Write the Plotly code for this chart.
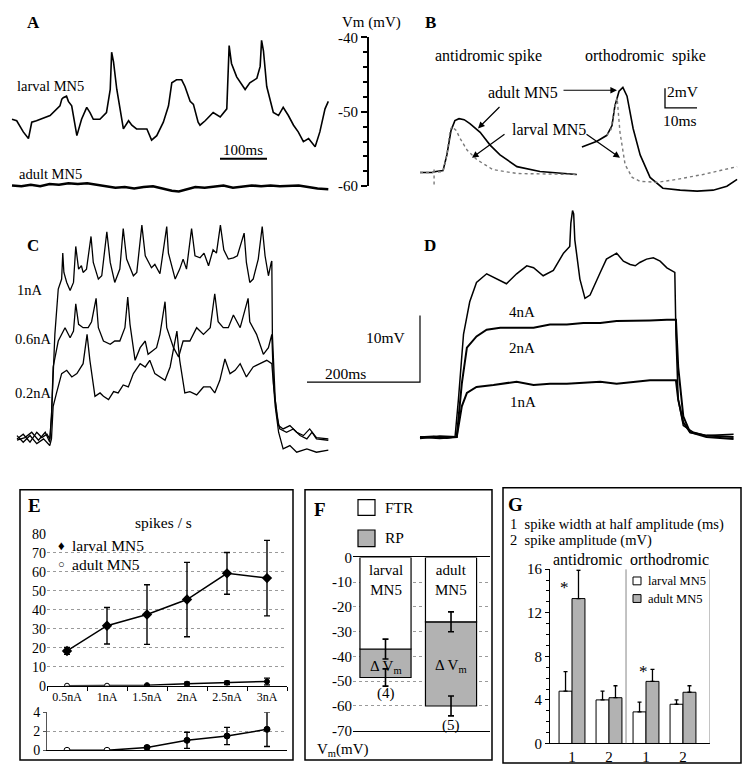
import plotly.graph_objects as go

W, H = 744, 774
FONT = "Liberation Serif"

# ---------------- Panel A : spontaneous membrane potential (time ms, Vm mV)
A_larval_t = [0, 10, 24, 35, 42, 52, 81, 102, 106, 109, 116, 120, 127, 138, 148, 159, 166, 173, 187, 201,
              209, 212, 216, 223, 237, 248, 255, 265, 287, 297, 308, 322, 333, 340, 350, 361, 368, 379, 386,
              396, 400, 411, 428, 443, 457, 462, 467, 478, 496, 506, 521, 528, 531, 535, 542, 556, 567, 577,
              588, 599, 609, 620, 631, 645, 655, 666, 673]
A_larval_v = [-51.0, -51.2, -52.7, -53.6, -51.4, -51.2, -50.5, -49.2, -48.3, -48.1, -47.9, -48.6, -49.2,
              -53.2, -51.0, -49.4, -50.1, -51.0, -51.0, -50.1, -47.0, -42.0, -43.3, -47.0, -52.3, -51.2,
              -51.8, -52.3, -52.3, -53.8, -53.2, -51.4, -49.2, -46.1, -45.7, -45.7, -46.6, -48.6, -49.0,
              -51.4, -51.8, -51.2, -50.1, -50.7, -49.6, -41.1, -43.5, -45.3, -47.0, -46.1, -45.5, -43.9,
              -40.4, -41.8, -46.6, -50.1, -50.5, -49.4, -50.5, -51.8, -52.7, -54.0, -53.6, -54.7, -52.7,
              -49.6, -48.6]
A_adult_t = [0, 20, 40, 60, 80, 100, 120, 140, 160, 180, 200, 220, 240, 260, 280, 300, 320, 340, 355, 370,
             390, 410, 430, 450, 470, 490, 510, 530, 550, 570, 590, 610, 630, 650, 673]
A_adult_v = [-59.9, -60.0, -59.8, -60.0, -59.7, -59.8, -59.6, -59.7, -59.6, -59.8, -60.0, -60.2, -60.1,
             -60.3, -60.1, -60.0, -60.3, -60.6, -60.7, -60.4, -60.1, -60.2, -60.1, -59.9, -60.2, -60.1,
             -59.9, -60.0, -59.9, -60.0, -59.9, -59.9, -60.1, -60.3, -60.4]
A_vm_ticks = [-40, -50, -60]
A_scale_ms = 100

# ---------------- Panel B : spikes (time ms, mV relative to baseline)
B_anti_adult_t = [0, 3.8, 5.0, 7.2, 8.4, 9.7, 10.9, 12.2, 13.8, 15.6, 18.8, 21.9, 25.0, 30.3, 37.5, 49.0]
B_anti_adult_v = [0, 0, 0.1, 0.2, 1.8, 4.3, 5.3, 5.5, 5.4, 5.0, 4.1, 2.8, 1.8, 0.6, 0.1, -0.2]
B_anti_larval_t = [0, 3.8, 7.2, 8.4, 9.4, 10.0, 11.3, 12.5, 14.7, 17.8, 22.8, 30.3, 49.0]
B_anti_larval_v = [0, 0, 0.1, 1.8, 4.3, 4.7, 4.3, 3.5, 2.3, 1.3, 0.3, -0.1, -0.2]
B_artifact_t = [4.4, 4.4]
B_artifact_v = [0.3, -1.4]
B_ortho_adult_t = [50.6, 55.3, 58.4, 60.0, 60.9, 62.2, 63.4, 64.7, 66.6, 68.8, 71.9, 75.9, 81.3, 86.6,
                   91.6, 95.9, 99.1]
B_ortho_adult_v = [2.6, 3.2, 3.8, 4.8, 6.8, 8.3, 8.7, 7.8, 4.5, 1.8, -0.5, -1.6, -1.8, -1.9, -1.8, -1.4, -0.7]
B_ortho_larval_t = [58.4, 59.7, 60.6, 61.6, 62.5, 64.1, 66.3, 68.8, 74.1, 80.3, 88.4, 99.1]
B_ortho_larval_v = [3.8, 4.4, 6.3, 7.6, 4.1, 0.8, -0.5, -0.9, -1.0, -0.7, -0.2, 0.6]
B_scale_mv = 2
B_scale_ms = 10

# ---------------- Panel C : larval MN5 current steps (time ms, mV above rest)
C_1nA_t = [0, 11, 23, 35, 44, 53, 58, 61, 67, 73, 79, 81, 83, 88, 94, 100, 104, 109, 114, 117, 123, 131,
           135, 144, 150, 159, 165, 173, 182, 188, 194, 206, 212, 221, 227, 238, 244, 253, 265, 268, 280,
           288, 294, 300, 309, 315, 324, 331, 339, 347, 353, 360, 366, 374, 383, 390, 402, 406, 412, 418,
           427, 434, 439, 445, 450, 451, 452, 457, 463, 471, 483, 495, 507, 518, 530, 551]
C_1nA_v = [0, 0.7, -0.5, 1.0, 0.2, 0.7, 0, 3.4, 15.7, 22.5, 24.0, 27.9, 25.0, 23.5, 22.3, 23.5, 28.9, 25.5,
           26.0, 25.0, 25.5, 30.4, 26.5, 24.0, 24.5, 31.1, 26.5, 23.5, 25.5, 31.6, 27.0, 24.5, 25.0, 32.1,
           27.5, 25.7, 26.2, 24.8, 31.9, 27.9, 24.0, 25.5, 27.0, 25.5, 31.6, 27.5, 27.2, 27.9, 26.0, 28.4,
           27.9, 32.1, 28.4, 27.0, 27.2, 27.5, 30.9, 26.5, 23.5, 24.0, 27.0, 31.9, 27.5, 24.5, 26.5, 26.7,
           15.7, 5.9, 2.0, 1.5, 2.0, 1.0, 0.5, 1.5, 0.2, 0]
C_06nA_t = [0, 14, 26, 38, 50, 58, 61, 64, 73, 85, 94, 100, 104, 109, 117, 126, 132, 140, 144, 153, 165,
            173, 182, 191, 196, 200, 209, 218, 227, 232, 247, 253, 262, 265, 277, 286, 294, 306, 318, 330,
            342, 350, 356, 365, 374, 383, 395, 409, 412, 424, 436, 445, 451, 454, 460, 465, 477, 489, 501,
            513, 522, 530, 551]
C_06nA_v = [-0.2, 0.2, 1.0, -0.2, 1.0, -0.5, 3.4, 10.8, 14.7, 16.7, 15.2, 16.2, 20.3, 17.2, 16.7, 16.7,
            17.6, 21.1, 16.7, 14.7, 14.2, 14.7, 14.7, 16.7, 21.3, 17.2, 11.8, 13.7, 14.7, 12.7, 13.7, 15.7,
            20.6, 16.7, 13.7, 12.3, 14.7, 14.7, 16.7, 15.7, 16.7, 21.8, 17.6, 16.7, 16.7, 18.6, 16.7, 21.1,
            17.6, 15.7, 12.7, 13.7, 15.7, 8.3, 3.4, 1.5, 1.0, 1.5, 0.5, 0, 1.0, 0, -0.2]
C_02nA_t = [0, 11, 23, 35, 47, 58, 61, 64, 70, 79, 88, 97, 106, 117, 124, 129, 138, 147, 153, 162, 171,
            179, 188, 197, 206, 218, 227, 235, 244, 253, 262, 271, 283, 288, 297, 306, 318, 330, 342, 350,
            359, 368, 377, 386, 395, 406, 418, 430, 442, 451, 457, 463, 471, 483, 495, 513, 530, 551]
C_02nA_v = [0.5, -0.5, 0.5, -0.7, 0, -1.0, 0, 4.9, 6.9, 9.8, 10.3, 9.3, 9.8, 11.3, 15.7, 11.8, 6.4, 6.9,
            6.4, 5.9, 7.1, 6.9, 8.1, 7.8, 9.8, 11.3, 10.8, 11.8, 9.8, 9.3, 8.8, 10.8, 16.2, 11.8, 6.9, 7.1,
            6.6, 7.8, 7.8, 6.9, 8.8, 12.0, 9.8, 10.3, 11.3, 9.3, 10.8, 11.3, 11.8, 11.3, 4.9, 1.0, -1.5,
            -1.0, -2.0, -1.5, -2.0, -1.7]
C_labels = ["1nA", "0.6nA", "0.2nA"]
C_scale_mv = 10
C_scale_ms = 200

# ---------------- Panel D : adult MN5 current steps (time ms, mV above rest)
D_top_t = [0, 24, 47, 62, 68, 77, 88, 100, 118, 136, 153, 171, 189, 201, 218, 236, 254, 265, 267, 270, 272,
           274, 283, 292, 301, 319, 330, 348, 360, 372, 381, 389, 401, 413, 425, 437, 451, 453, 457, 466,
           484, 507, 555]
D_top_v = [0, 0.1, -0.2, 0, 5.6, 15.4, 20.3, 23.2, 24.5, 23.7, 23.0, 24.5, 25.7, 25.4, 24.2, 25.0, 27.6,
           28.6, 32.1, 34.0, 33.5, 29.6, 23.7, 20.8, 21.3, 24.7, 26.7, 27.6, 26.4, 25.9, 25.7, 26.2, 26.7,
           26.9, 26.4, 25.4, 24.7, 15.4, 5.6, 1.7, 0.7, 0.2, 0.4]
D_mid_t = [0, 35, 65, 74, 83, 100, 118, 142, 171, 201, 230, 260, 289, 319, 348, 378, 407, 437, 453, 457,
           466, 478, 507, 555]
D_mid_v = [-0.2, 0.1, 0, 8.0, 13.4, 15.1, 16.1, 16.4, 16.4, 16.4, 16.9, 16.9, 17.1, 17.1, 17.4, 17.4,
           17.5, 17.6, 17.6, 10.5, 3.1, 0.7, 0, -0.3]
D_low_t = [0, 35, 65, 74, 83, 100, 130, 171, 201, 230, 260, 289, 319, 348, 378, 407, 437, 453, 457, 466,
           478, 507, 555]
D_low_v = [0, -0.2, 0, 4.6, 6.6, 7.5, 7.8, 8.3, 7.8, 8.0, 8.0, 8.1, 8.3, 8.0, 8.3, 8.5, 8.5, 8.5, 5.6,
           2.2, 0.7, 0.2, 0]
D_labels = ["4nA", "2nA", "1nA"]

# ---------------- Panel E : spikes / s
E_currents = ["0.5nA", "1nA", "1.5nA", "2nA", "2.5nA", "3nA"]
E_larval = [18.3, 31.6, 37.5, 45.4, 59.2, 56.7]
E_larval_err = [1.8, 9.6, 15.7, 19.6, 11.0, 19.9]
E_adult = [0, 0, 0.3, 1.05, 1.5, 2.2]
E_adult_err = [0, 0, 0.1, 0.85, 0.9, 1.8]

# ---------------- Panel F : FTR / RP (mV)
F_cells = ["larval<br>MN5", "adult<br>MN5"]
F_ftr = [-37.0, -26.0]
F_ftr_err = [4.0, 4.0]
F_rp = [-48.5, -60.0]
F_rp_err = [3.5, 4.0]
F_n = ["(4)", "(5)"]

# ---------------- Panel G : spike parameters
G_ticks = ["1", "2", "1", "2"]
G_larval = [4.8, 4.0, 2.9, 3.6]
G_larval_err = [1.8, 0.8, 0.9, 0.4]
G_adult = [13.3, 4.2, 5.7, 4.7]
G_adult_err = [2.6, 1.1, 1.1, 0.6]

GRAY = "#b2b2b2"
BLACK = "black"


# ---------------- layout helpers (pixel geometry -> paper / axis ranges)
def dom_x(p0, p1):
    return [p0 / W, p1 / W]


def dom_y(p0, p1):
    return [1 - p1 / H, 1 - p0 / H]


def xr(p0, p1, pref, vref, s):
    return [vref + (p0 - pref) / s, vref + (p1 - pref) / s]


def yr(p0, p1, pref, vref, s):
    return [vref - (p1 - pref) / s, vref - (p0 - pref) / s]


def hidden(**kw):
    d = dict(visible=False, showgrid=False, zeroline=False, fixedrange=True)
    d.update(kw)
    return d


fig = go.Figure()


def line(x, y, ax, width=1.5, color=BLACK, dash="solid"):
    fig.add_trace(go.Scatter(x=x, y=y, mode="lines", xaxis=ax[0], yaxis=ax[1],
                             line=dict(color=color, width=width, dash=dash),
                             showlegend=False, hoverinfo="skip"))


# A
line(A_larval_t, A_larval_v, ("x", "y"), 1.6)
line(A_adult_t, A_adult_v, ("x", "y"), 2.6)
A_bar0 = (220 - 12) / 0.47
A_barv = -40 - (154 - 30) / 7.6
line([A_bar0, A_bar0 + A_scale_ms], [A_barv, A_barv], ("x", "y"), 2)
fig.add_trace(go.Scatter(x=[0.5], y=[-50], xaxis="x2", yaxis="y2", mode="markers",
                         marker=dict(opacity=0), showlegend=False, hoverinfo="skip"))

# B
line(B_anti_adult_t, B_anti_adult_v, ("x3", "y3"), 1.6)
line(B_anti_larval_t, B_anti_larval_v, ("x3", "y3"), 1.4, "#7a7a7a", "dot")
line(B_artifact_t, B_artifact_v, ("x3", "y3"), 1.4, "#7a7a7a", "dot")
line(B_ortho_adult_t, B_ortho_adult_v, ("x3", "y3"), 1.6)
line(B_ortho_larval_t, B_ortho_larval_v, ("x3", "y3"), 1.4, "#7a7a7a", "dot")
B_bar_t = (665 - 420) / 3.2
B_bar_v = (168 - 102) / 10
line([B_bar_t, B_bar_t, B_bar_t + B_scale_ms], [B_bar_v + B_scale_mv, B_bar_v, B_bar_v], ("x3", "y3"), 1.3)

# C
line(C_1nA_t, C_1nA_v, ("x4", "y4"), 1.3)
line(C_06nA_t, C_06nA_v, ("x4", "y4"), 1.3)
line(C_02nA_t, C_02nA_v, ("x4", "y4"), 1.3)
C_bar_t = (307 - 17) / 0.565
C_bar_v = (440 - 382) / 6.8
line([C_bar_t, C_bar_t + C_scale_ms, C_bar_t + C_scale_ms],
     [C_bar_v, C_bar_v, C_bar_v + C_scale_mv], ("x4", "y4"), 1.2)

# D
line(D_top_t, D_top_v, ("x5", "y5"), 1.5)
line(D_mid_t, D_mid_v, ("x5", "y5"), 2.0)
line(D_low_t, D_low_v, ("x5", "y5"), 2.0)

# E upper and lower
for ax in (("x6", "y6"), ("x7", "y7")):
    if ax[0] == "x6":
        fig.add_trace(go.Scatter(x=E_currents, y=E_larval, xaxis=ax[0], yaxis=ax[1], mode="lines+markers",
                                 line=dict(color=BLACK, width=1.5),
                                 marker=dict(symbol="diamond", size=8, color=BLACK),
                                 error_y=dict(type="data", array=E_larval_err, color=BLACK,
                                              thickness=1.4, width=3),
                                 showlegend=False, hoverinfo="skip"))
    fig.add_trace(go.Scatter(x=E_currents, y=E_adult, xaxis=ax[0], yaxis=ax[1], mode="lines+markers",
                             line=dict(color=BLACK, width=1.5),
                             marker=dict(symbol="circle", size=5 if ax[0] == "x6" else 6,
                                         color=["white", "white", BLACK, BLACK, BLACK, BLACK],
                                         line=dict(color=BLACK, width=1)),
                             error_y=dict(type="data", array=E_adult_err, color=BLACK,
                                          thickness=1.4, width=3),
                             showlegend=False, hoverinfo="skip"))

# F bars (overlay with explicit base)
F_pos = [0, 1]
fig.add_trace(go.Bar(x=F_pos, y=[r - f for r, f in zip(F_rp, F_ftr)], base=F_ftr, xaxis="x8", yaxis="y8",
                     width=0.78, marker=dict(color=GRAY, line=dict(color=BLACK, width=1.2)),
                     error_y=dict(type="data", array=F_rp_err, color=BLACK, thickness=1.6, width=3),
                     showlegend=False, hoverinfo="skip"))
fig.add_trace(go.Bar(x=F_pos, y=F_ftr, base=[0, 0], xaxis="x8", yaxis="y8",
                     width=0.78, marker=dict(color="white", line=dict(color=BLACK, width=1.2)),
                     error_y=dict(type="data", array=F_ftr_err, color=BLACK, thickness=1.6, width=3),
                     showlegend=False, hoverinfo="skip"))

# G bars
G_pos = [1, 2, 3, 4]
fig.add_trace(go.Bar(x=G_pos, y=G_larval, xaxis="x9", yaxis="y9", offset=-0.35, width=0.35,
                     marker=dict(color="white", line=dict(color=BLACK, width=1)),
                     error_y=dict(type="data", symmetric=False, array=G_larval_err,
                                  arrayminus=[0] * 4, color=BLACK, thickness=1.3, width=2),
                     showlegend=False, hoverinfo="skip"))
fig.add_trace(go.Bar(x=G_pos, y=G_adult, xaxis="x9", yaxis="y9", offset=0, width=0.35,
                     marker=dict(color=GRAY, line=dict(color=BLACK, width=1)),
                     error_y=dict(type="data", symmetric=False, array=G_adult_err,
                                  arrayminus=[0] * 4, color=BLACK, thickness=1.3, width=2),
                     showlegend=False, hoverinfo="skip"))

tf = dict(family=FONT, size=15, color=BLACK)

layout = dict(
    width=W, height=H, margin=dict(l=0, r=0, t=0, b=0), autosize=False,
    paper_bgcolor="white", plot_bgcolor="rgba(0,0,0,0)", barmode="overlay",
    font=dict(family=FONT, size=14, color=BLACK), showlegend=False,
    # A
    xaxis=hidden(domain=dom_x(0, 380), range=xr(0, 380, 12, 0, 0.47), anchor="y"),
    yaxis=hidden(domain=dom_y(20, 195), range=yr(20, 195, 30, -40, 7.6), anchor="x"),
    xaxis2=hidden(domain=dom_x(369, 370), range=[0, 1], anchor="y2"),
    yaxis2=dict(domain=dom_y(30, 182), range=[-60, -40], anchor="x2", side="left", showline=True,
                linecolor=BLACK, linewidth=2, ticks="outside", ticklen=6, tickwidth=1.5, tickcolor=BLACK,
                tickvals=A_vm_ticks, ticktext=[str(v) for v in A_vm_ticks], tickfont=tf,
                minor=dict(tickvals=[-42, -44, -46, -48, -52, -54, -56, -58], ticks="outside", ticklen=4,
                           tickwidth=1.5, tickcolor=BLACK),
                showgrid=False, zeroline=False, fixedrange=True),
    # B
    xaxis3=hidden(domain=dom_x(415, 744), range=xr(415, 744, 420, 0, 3.2), anchor="y3"),
    yaxis3=hidden(domain=dom_y(55, 200), range=yr(55, 200, 168, 0, 10), anchor="x3"),
    # C
    xaxis4=hidden(domain=dom_x(10, 425), range=xr(10, 425, 17, 0, 0.565), anchor="y4"),
    yaxis4=hidden(domain=dom_y(205, 462), range=yr(205, 462, 440, 0, 6.8), anchor="x4"),
    # D
    xaxis5=hidden(domain=dom_x(412, 744), range=xr(412, 744, 420, 0, 0.565), anchor="y5"),
    yaxis5=hidden(domain=dom_y(198, 462), range=yr(198, 462, 438, 0, 6.8), anchor="x5"),
    # E upper
    xaxis6=dict(domain=dom_x(47, 287), anchor="y6", type="category", categoryorder="array",
                categoryarray=E_currents, range=[-0.5, 5.5], showline=True, linecolor=BLACK, linewidth=1.2,
                ticks="outside", tickson="boundaries", ticklen=4, tickcolor=BLACK, showgrid=False,
                tickfont=dict(family=FONT, size=12, color=BLACK), fixedrange=True),
    yaxis6=dict(domain=dom_y(537, 692), anchor="x6", range=[0, 80], dtick=10, showline=False,
                ticks="", showgrid=True, gridcolor="#9a9a9a", griddash="dot", gridwidth=1, zeroline=False,
                tickfont=dict(family=FONT, size=14, color=BLACK), fixedrange=True),
    # E lower
    xaxis7=dict(domain=dom_x(47, 287), anchor="y7", type="category", categoryorder="array",
                categoryarray=E_currents, range=[-0.5, 5.5], showline=True, linecolor=BLACK, linewidth=1.2,
                showticklabels=False, ticks="", showgrid=False, fixedrange=True),
    yaxis7=dict(domain=dom_y(719, 758), anchor="x7", range=[0, 4], tickvals=[0, 2, 4], showline=True,
                linecolor="#555", linewidth=1, ticks="outside", ticklen=3, tickcolor="#555",
                showgrid=True, gridcolor="#9a9a9a", griddash="dot", zeroline=False,
                tickfont=dict(family=FONT, size=14, color=BLACK), fixedrange=True),
    # F
    xaxis8=dict(domain=dom_x(353, 490), anchor="y8", range=[-0.496, 1.595], showline=True, mirror=True,
                linecolor=BLACK, linewidth=1, ticks="", showticklabels=False, showgrid=False,
                zeroline=False, fixedrange=True),
    yaxis8=dict(domain=dom_y(561, 738), anchor="x8", range=[-70, 0], tickvals=list(range(0, -80, -10)),
                ticktext=[str(v) for v in range(0, -80, -10)], showline=False, ticks="",
                showgrid=True, gridcolor="#9a9a9a", griddash="dot", zeroline=False,
                tickfont=dict(family=FONT, size=15, color=BLACK), fixedrange=True),
    # G
    xaxis9=dict(domain=dom_x(550, 710), anchor="y9", range=[0.405, 4.73], tickvals=G_pos, ticktext=G_ticks,
                showline=True, linecolor=BLACK, linewidth=1, ticks="", showgrid=False, zeroline=False,
                tickfont=tf, fixedrange=True),
    yaxis9=dict(domain=dom_y(573, 751), anchor="x9", range=[0, 16], dtick=4, showline=True,
                linecolor=BLACK, linewidth=1, ticks="outside", ticklen=4, tickcolor=BLACK,
                minor=dict(dtick=1, ticks="outside", ticklen=3, tickcolor=BLACK),
                showgrid=False, zeroline=False, tickfont=tf, fixedrange=True),
)

ann = []


def txt(px, py, s, size=15, xanchor="center", bold=False):
    ann.append(dict(x=px / W, y=1 - py / H, xref="paper", yref="paper", text=("<b>%s</b>" % s) if bold else s,
                    showarrow=False, xanchor=xanchor, yanchor="middle",
                    font=dict(family=FONT, size=size, color=BLACK)))


def dtxt(x, y, xref, yref, s, size=15):
    ann.append(dict(x=x, y=y, xref=xref, yref=yref, text=s, showarrow=False, xanchor="center",
                    yanchor="middle", font=dict(family=FONT, size=size, color=BLACK)))


def arrow(x, y, ax, ay):
    ann.append(dict(x=x, y=y, xref="x3", yref="y3", ax=ax, ay=ay, text=" ", showarrow=True,
                    arrowhead=2, arrowsize=1.1, arrowwidth=1.2, arrowcolor=BLACK))


# panel letters
txt(33, 15, "A", 17, bold=True)
txt(430, 15, "B", 17, bold=True)
txt(33, 243, "C", 17, bold=True)
txt(430, 243, "D", 17, bold=True)
txt(34, 508, "E", 19, bold=True)
txt(320, 512, "F", 19, bold=True)
txt(515, 507, "G", 19, bold=True)

# A
txt(51, 80, "larval MN5", 14.5)
txt(51, 170, "adult MN5", 14.5)
txt(243, 145, "100ms", 15)
txt(371, 15, "Vm (mV)", 15)
# B
txt(488, 49, "antidromic spike", 16)
txt(645, 49, "orthodromic&nbsp; spike", 16)
txt(523, 86, "adult MN5", 16)
txt(549, 124, "larval MN5", 16)
txt(683, 85, "2mV", 15.5)
txt(680, 115, "10ms", 15.5)
arrow((617 - 420) / 3.2, (168 - 84) / 10, -57, 0)
arrow((478 - 420) / 3.2, (168 - 123) / 10, 25, -25)
arrow((472 - 420) / 3.2, (168 - 153) / 10, 36, -26)
arrow((620 - 420) / 3.2, (168 - 153) / 10, -37, -26)
# C
txt(30, 288, C_labels[0], 14.5)
txt(33, 338, C_labels[1], 14.5)
txt(33, 393, C_labels[2], 14.5)
txt(386, 336, "10mV", 15.5)
txt(345, 373, "200ms", 15.5)
# D
txt(522, 310, D_labels[0], 15)
txt(522, 347, D_labels[1], 15)
txt(523, 402, D_labels[2], 15)
# E
txt(163, 525, "spikes / s", 15.5)
txt(61, 549, "\u2666", 13)
txt(70, 549, "larval MN5", 15.5, "left")
txt(61, 568, "\u25cb", 11)
txt(70, 568, "adult MN5", 15.5, "left")
# F
txt(383, 510, "FTR", 15.5, "left")
txt(383, 541, "RP", 15.5, "left")
txt(315, 758, "V<sub>m</sub>(mV)", 15, "left")
for i, p in enumerate(F_pos):
    dtxt(p, -9.3, "x8", "y8", F_cells[i], 15)
dtxt(0, -44.3, "x8", "y8", "\u0394 V<sub>m</sub>", 15)
dtxt(1, -44.0, "x8", "y8", "\u0394 V<sub>m</sub>", 15)
dtxt(0, -55.0, "x8", "y8", F_n[0], 15)
dtxt(1, -67.8, "x8", "y8", F_n[1], 15)
# G
txt(508, 527, "1&nbsp; spike width at half amplitude (ms)", 14.5, "left")
txt(508, 544, "2&nbsp; spike amplitude (mV)", 14.5, "left")
txt(587, 563, "antidromic", 16)
txt(669, 563, "orthodromic", 16)
dtxt(0.81, 14.3, "x9", "y9", "*", 17)
dtxt(2.92, 6.6, "x9", "y9", "*", 17)
txt(646, 585, "larval MN5", 12.5, "left")
txt(646, 603, "adult MN5", 12.5, "left")

layout["annotations"] = ann


def rect(x0, y0, x1, y1, fill="rgba(0,0,0,0)", width=1.5):
    return dict(type="rect", xref="paper", yref="paper", x0=x0 / W, x1=x1 / W, y0=1 - y1 / H, y1=1 - y0 / H,
                line=dict(color=BLACK, width=width), fillcolor=fill, layer="above")


shapes = [
    rect(20, 492, 293, 768), rect(305, 492, 492, 768), rect(503, 490, 741, 771),
    rect(358, 502, 375, 518, "white", 1.2), rect(358, 533, 375, 550, GRAY, 1.2),
    rect(633, 581, 641, 589, "white", 1), rect(633, 599, 641, 607, GRAY, 1),
    dict(type="line", xref="x9", yref="y9", x0=2.46, x1=2.46, y0=0, y1=16, line=dict(color="#888", width=1)),
    dict(type="line", xref="x9", yref="y9", x0=4.73, x1=4.73, y0=0, y1=16, line=dict(color="#888", width=1)),
]
layout["shapes"] = shapes

fig.update_layout(**layout)
fig.write_html("out.html", config={"displayModeBar": False},
               post_script="document.body.style.margin='0px';")
